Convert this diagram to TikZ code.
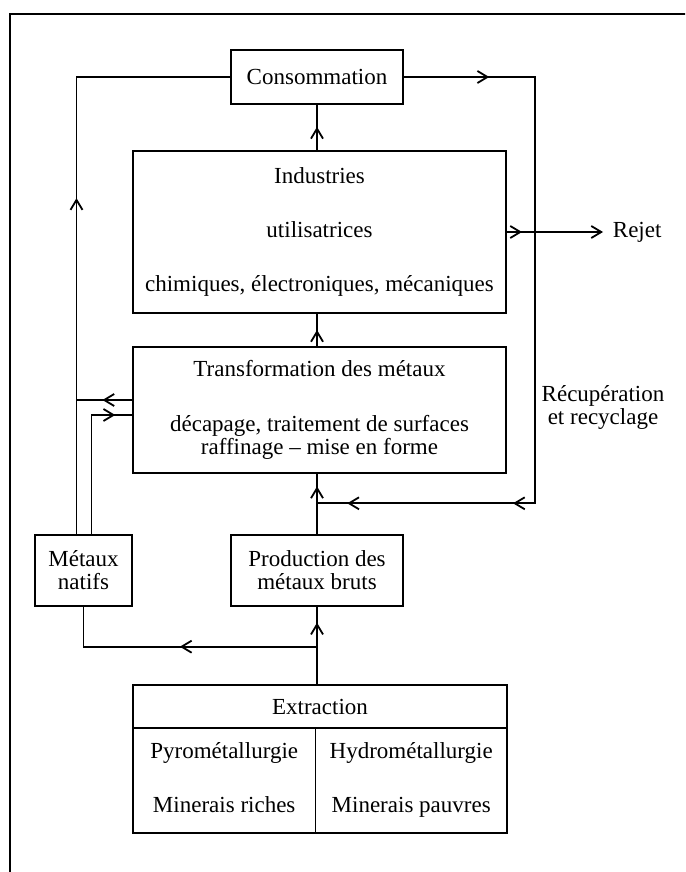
\documentclass[tikz,border=0pt]{standalone}
\usepackage{fontspec}
\setmainfont{Liberation Serif}
\usetikzlibrary{arrows.meta,positioning,decorations.markings}

\begin{document}
\begin{tikzpicture}[
  x=0.5pt, y=-0.5pt,
  font=\fontsize{11.5pt}{11.5pt}\selectfont,
  line width=0.9pt,
  stage/.style={rectangle, draw, align=center, inner sep=2pt, outer sep=0pt},
  flow/.style={postaction={decorate, decoration={markings,
      mark=at position #1 with {\arrow{Straight Barb[length=5pt,width=6pt]}}}}},
  endarrow/.style={-{Straight Barb[length=5pt,width=6pt]}},
]
  \useasboundingbox (0,0) rectangle (685,872);
  \clip (0,0) rectangle (685,872);
  \draw (9.6,14) rectangle (720,900);

  \node[stage, minimum width=86pt, minimum height=27pt] (cons) at (317,77) {Consommation};
  \node[stage, minimum width=186.5pt, minimum height=81.3pt] (ind) at (319.5,232)
    {Industries\\[15.7pt]utilisatrices\\[15.7pt]chimiques, électroniques, mécaniques};
  \node[stage, minimum width=186.5pt, minimum height=63pt] (trans) at (319.5,409.7)
    {Transformation des métaux\\[15.7pt]décapage, traitement de surfaces\\raffinage -- mise en forme};
  \node[stage, minimum width=48.5pt, minimum height=35.5pt] (natifs) at (83.5,570.5) {Métaux\\natifs};
  \node[stage, minimum width=86pt, minimum height=35.5pt] (prod) at (317,570.5) {Production des\\métaux bruts};
  \node[stage, minimum width=187pt, minimum height=21.5pt] (extr) at (320,706.8) {Extraction};
  \node[stage, minimum width=91.2pt, minimum height=52.5pt, anchor=north west] (pyro)
    at (extr.south west) {\strut Pyrométallurgie\\[15.5pt]\strut Minerais riches};
  \node[stage, minimum width=95.8pt, minimum height=52.5pt, anchor=north east] (hydro)
    at (extr.south east) {\strut Hydrométallurgie\\[15.5pt]\strut Minerais pauvres};

  \node[right=48.5pt of ind.east, inner xsep=4.5pt] (rejet) {Rejet};
  \node[align=center] (recup) at (603,407.7) {Récupération\\et recyclage};

  % points on the loops
  \coordinate (nl) at ([xshift=-3.5pt]natifs.north);
  \coordinate (nr) at ([xshift=4pt]natifs.north);
  \coordinate (tl) at ([yshift=4.85pt]trans.west);
  \coordinate (tr) at ([yshift=-2.65pt]trans.west);
  \coordinate (rtop) at (535,77);
  \coordinate (rbot) at (535,503.3);
  \coordinate (split) at (317,646.7);

  \draw[flow=0.79] (extr.north -| prod.south) -- (prod.south);
  \draw[flow=0.5] (split) -| (natifs.south);
  \draw[flow=0.78] (prod.north) -- (prod.north |- trans.south);
  \draw[flow=0.5] (trans.north -| prod.north) -- (ind.south -| prod.north);
  \draw[flow=0.51] (ind.north -| cons.south) -- (cons.south);
  \draw[flow=0.55] (nl) |- (cons.west);
  \draw[flow=0.54] (tl) -- (tl -| nl);
  \draw[flow=0.89] (nr) |- (tr);
  \draw[flow=0.111, flow=0.7475, flow=0.961] (cons.east) -- (rtop) -- (rbot) -- (rbot -| prod.north);
  \draw[endarrow, flow=0.165] (ind.east) -- (rejet.west);
\end{tikzpicture}
\end{document}
